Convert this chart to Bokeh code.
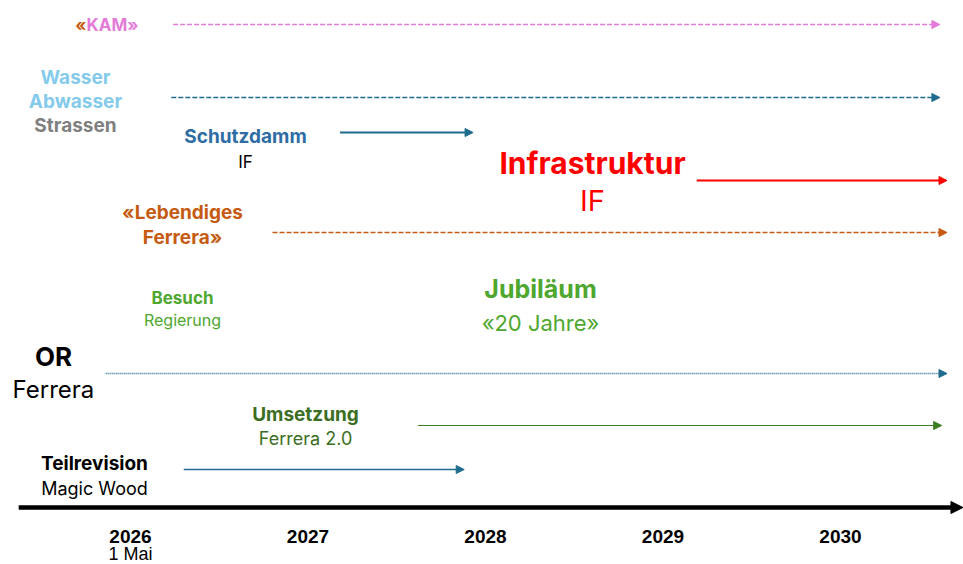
from bokeh.plotting import figure
from bokeh.models import Range1d, Arrow, NormalHead, ColumnDataSource
from bokeh.core.properties import value
from bokeh.embed import file_html
from bokeh.resources import INLINE

# ---------------- data ----------------
years = [2026, 2027, 2028, 2029, 2030]
year_labels = ["2026", "2027", "2028", "2029", "2030"]
year_sub = "1 Mai"

tracks = ["KAM", "Wasser Abwasser Strassen", "Schutzdamm", "Infrastruktur",
          "Lebendiges Ferrera", "OR Ferrera", "Umsetzung", "Teilrevision"]
start_year = [2026.24, 2026.23, 2027.18, 2029.19, 2026.80, 2025.86, 2027.62, 2026.30]
end_year = [2030.56, 2030.56, 2027.93, 2030.60, 2030.60, 2030.60, 2030.57, 2027.88]
timeline_start = 2025.37
timeline_end = 2030.69

# ---------------- layout / style ----------------
row_y = [24, 97, 132, 180, 232, 373, 425, 469]
arrow_color = ["#E47BD8", "#1F6B8E", "#1F6B8E", "#FF0000", "#C55A11", "#1F6B8E", "#3B7D23", "#1F6B8E"]
arrow_width = [1.5, 1.5, 2, 2, 1.5, 1.5, 1.2, 1.5]
arrow_dash = ["5 2", "5 2", "solid", "solid", "5 2", "1 1", "solid", "solid"]

FONT = "Inter"

p = figure(width=963, height=564, output_backend="svg", toolbar_location=None,
           x_range=Range1d(2025.2676, 2030.6930), y_range=Range1d(564, 0),
           min_border=0, outline_line_color=None)
p.axis.visible = False
p.grid.visible = False


def label(x, y, text, size, color, bold=False, align="center", font=FONT):
    src = ColumnDataSource(dict(x=[x], y=[y], t=[text]))
    p.text(x="x", y="y", text="t", source=src, text_align=align,
           text_baseline="middle", text_font=value(font),
           text_font_size=size, text_color=color,
           text_font_style="bold" if bold else "normal")


# arrows
for s, e, yy, c, w, d in zip(start_year, end_year, row_y, arrow_color, arrow_width, arrow_dash):
    p.add_layout(Arrow(x_start=s, y_start=yy, x_end=e, y_end=yy,
                       line_color=c, line_width=w, line_dash=d,
                       end=NormalHead(size=8, fill_color=c, line_color=c, line_width=1)))

# time axis
p.add_layout(Arrow(x_start=timeline_start, y_start=507, x_end=timeline_end, y_end=507,
                   line_color="black", line_width=4.5,
                   end=NormalHead(size=12, fill_color="black", line_color="black")))

# year labels
src_years = ColumnDataSource(dict(x=years, y=[536] * len(years), t=year_labels))
p.text(x="x", y="y", text="t", source=src_years, text_align="center",
       text_baseline="middle", text_font=value("Liberation Sans"),
       text_font_size="19px", text_font_style="bold", text_color="black")
label(years[0], 553, year_sub, "18px", "black", font="Liberation Sans")

# track labels
label(2025.752, 24, "«", "17px", "#C55A11", bold=True, align="right")
label(2025.752, 24, "KAM»", "17px", "#E47BD8", bold=True, align="left")

label(2025.69, 77, "Wasser", "19px", "#83CAEB", bold=True)
label(2025.69, 101, "Abwasser", "19px", "#83CAEB", bold=True)
label(2025.69, 125, "Strassen", "19px", "#7F7F7F", bold=True)

label(2026.648, 136, "Schutzdamm", "19px", "#2E6DA4", bold=True)
label(2026.648, 161, "IF", "17px", "black")

label(2028.603, 162, "Infrastruktur", "30px", "#FF0000", bold=True)
label(2028.603, 200, "IF", "29px", "#FF0000")

label(2026.293, 212, "«Lebendiges", "19px", "#C55A11", bold=True)
label(2026.293, 237, "Ferrera»", "19px", "#C55A11", bold=True)

label(2026.293, 297, "Besuch", "17px", "#4EA72E", bold=True)
label(2026.293, 319, "Regierung", "16px", "#4EA72E")

label(2028.31, 288, "Jubiläum", "25px", "#4EA72E", bold=True)
label(2028.31, 322, "«20 Jahre»", "22px", "#4EA72E")

label(2025.566, 356, "OR", "26px", "black", bold=True)
label(2025.566, 389, "Ferrera", "24px", "black")

label(2026.986, 414, "Umsetzung", "19px", "#3B6E22", bold=True)
label(2026.986, 438, "Ferrera 2.0", "18px", "#3B6E22")

label(2025.797, 463, "Teilrevision", "19px", "black", bold=True)
label(2025.797, 488, "Magic Wood", "18px", "black")

open("out.html", "w").write(file_html(p, INLINE))
